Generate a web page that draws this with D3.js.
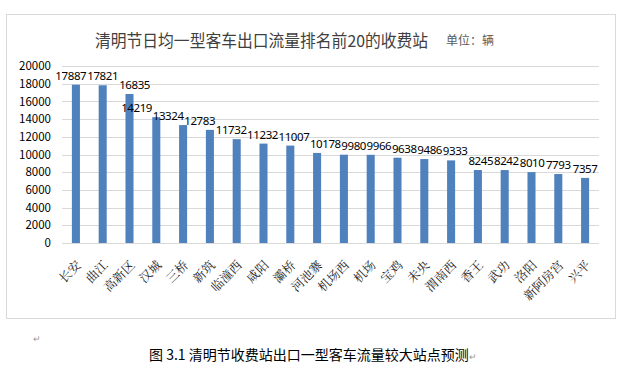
<!DOCTYPE html>
<html><head><meta charset="utf-8">
<script src="https://cdn.jsdelivr.net/npm/d3@7"></script>
<style>body{margin:0;background:#fff;}svg{display:block;}</style>
</head><body>
<script>
const categories = ["长安","曲江","高新区","汉城","三桥","新筑","临潼西","咸阳","灞桥","河池寨","机场西","机场","宝鸡","未央","渭南西","香王","武功","洛阳","新阿房宫","兴平"];
const values = [17887,17821,16835,14219,13324,12783,11732,11232,11007,10178,9980,9966,9638,9486,9333,8245,8242,8010,7793,7357];
const yTicks = [0,2000,4000,6000,8000,10000,12000,14000,16000,18000,20000];
const titleText = "清明节日均一型客车出口流量排名前20的收费站";
const unitText = "单位：辆";
const captionText = "图 3.1 清明节收费站出口一型客车流量较大站点预测";

const W = 620, H = 370;
const svg = d3.select("body").append("svg").attr("width", W).attr("height", H);
const sans = "'Noto Sans CJK SC','Noto Sans',sans-serif";

// outer chart frame
svg.append("rect").attr("x", 6.5).attr("y", 14.5).attr("width", 609).attr("height", 304)
  .attr("fill", "#fff").attr("stroke", "#d9d9d9");

const x = d3.scaleBand().domain(categories).range([62.5, 598.5]).paddingInner(0.7).paddingOuter(0.35);
const y = d3.scaleLinear().domain([0, 20000]).range([243, 66]);

// gridlines
svg.append("g").selectAll("line").data(yTicks).join("line")
  .attr("x1", 62).attr("x2", 599)
  .attr("y1", d => Math.round(y(d)) + 0.5).attr("y2", d => Math.round(y(d)) + 0.5)
  .attr("stroke", "#d9d9d9");

// y axis labels
const yAxis = d3.axisLeft(y).tickValues(yTicks).tickSize(0).tickPadding(0).tickFormat(d3.format("d"));
const ya = svg.append("g").attr("transform", "translate(51,0)").call(yAxis);
ya.select(".domain").remove();
ya.selectAll("text").attr("font-family", sans).attr("font-size", 11.5).attr("fill", "#000");

// bars
svg.append("g").selectAll("rect").data(values).join("rect")
  .attr("x", (d, i) => x(categories[i]))
  .attr("width", x.bandwidth())
  .attr("y", d => y(d))
  .attr("height", d => y(0) - y(d))
  .attr("fill", "#4f81bd");

// value labels
const fsVal = 11.5;
const labels = svg.append("g").selectAll("text").data(values).join("text")
  .attr("x", (d, i) => x(categories[i]) + x.bandwidth() / 2)
  .attr("y", d => y(d) - 5)
  .attr("text-anchor", "middle")
  .attr("font-family", "'Noto Sans',sans-serif").attr("font-size", fsVal).attr("fill", "#000")
  .attr("letter-spacing", -0.4)
  .text(d => d);

// nudge touching labels apart horizontally (as the spreadsheet does)
const nodes = labels.nodes();
const boxes = nodes.map((n, i) => {
  const w = n.getComputedTextLength();
  return { cx: +n.getAttribute("x"), y: +n.getAttribute("y"), w };
});
for (let it = 0; it < 30; it++) {
  for (let i = 1; i < boxes.length; i++) {
    const a = boxes[i - 1], b = boxes[i];
    if (Math.abs(a.y - b.y) < fsVal * 1.45) {
      const gap = (b.cx - b.w / 2) - (a.cx + a.w / 2);
      if (gap < 1) {
        const s = (1 - gap) / 2;
        a.cx -= s; b.cx += s;
      }
    }
  }
}
nodes.forEach((n, i) => n.setAttribute("x", boxes[i].cx));

// x axis category labels
const xAxis = d3.axisBottom(x).tickSize(0).tickPadding(0);
const xa = svg.append("g").attr("transform", "translate(0,243)").call(xAxis);
xa.select(".domain").remove();
xa.selectAll("text")
  .attr("font-family", "'Noto Serif CJK SC','Noto Sans CJK SC',serif")
  .attr("font-size", 12.5).attr("fill", "#222")
  .attr("text-anchor", "end")
  .attr("dy", 0)
  .attr("transform", "translate(6,23) rotate(-45)");

// title
svg.append("text").attr("x", 95).attr("y", 47)
  .attr("font-family", sans).attr("font-size", 16.5).attr("fill", "#404040")
  .attr("textLength", 333).attr("lengthAdjust", "spacingAndGlyphs")
  .text(titleText);
svg.append("text").attr("x", 446).attr("y", 45)
  .attr("font-family", sans).attr("font-size", 12).attr("fill", "#595959")
  .text(unitText);

// paragraph marks and caption
svg.append("text").attr("x", 33).attr("y", 342)
  .attr("font-family", sans).attr("font-size", 9).attr("fill", "#999").text("↵");
const cap = svg.append("text").attr("x", 149).attr("y", 360)
  .attr("font-family", "'Noto Sans CJK SC',sans-serif").attr("font-size", 14).attr("fill", "#000");
cap.append("tspan").text(captionText);
cap.append("tspan").attr("font-size", 9).attr("fill", "#999").text("↵");
</script>
</body></html>
